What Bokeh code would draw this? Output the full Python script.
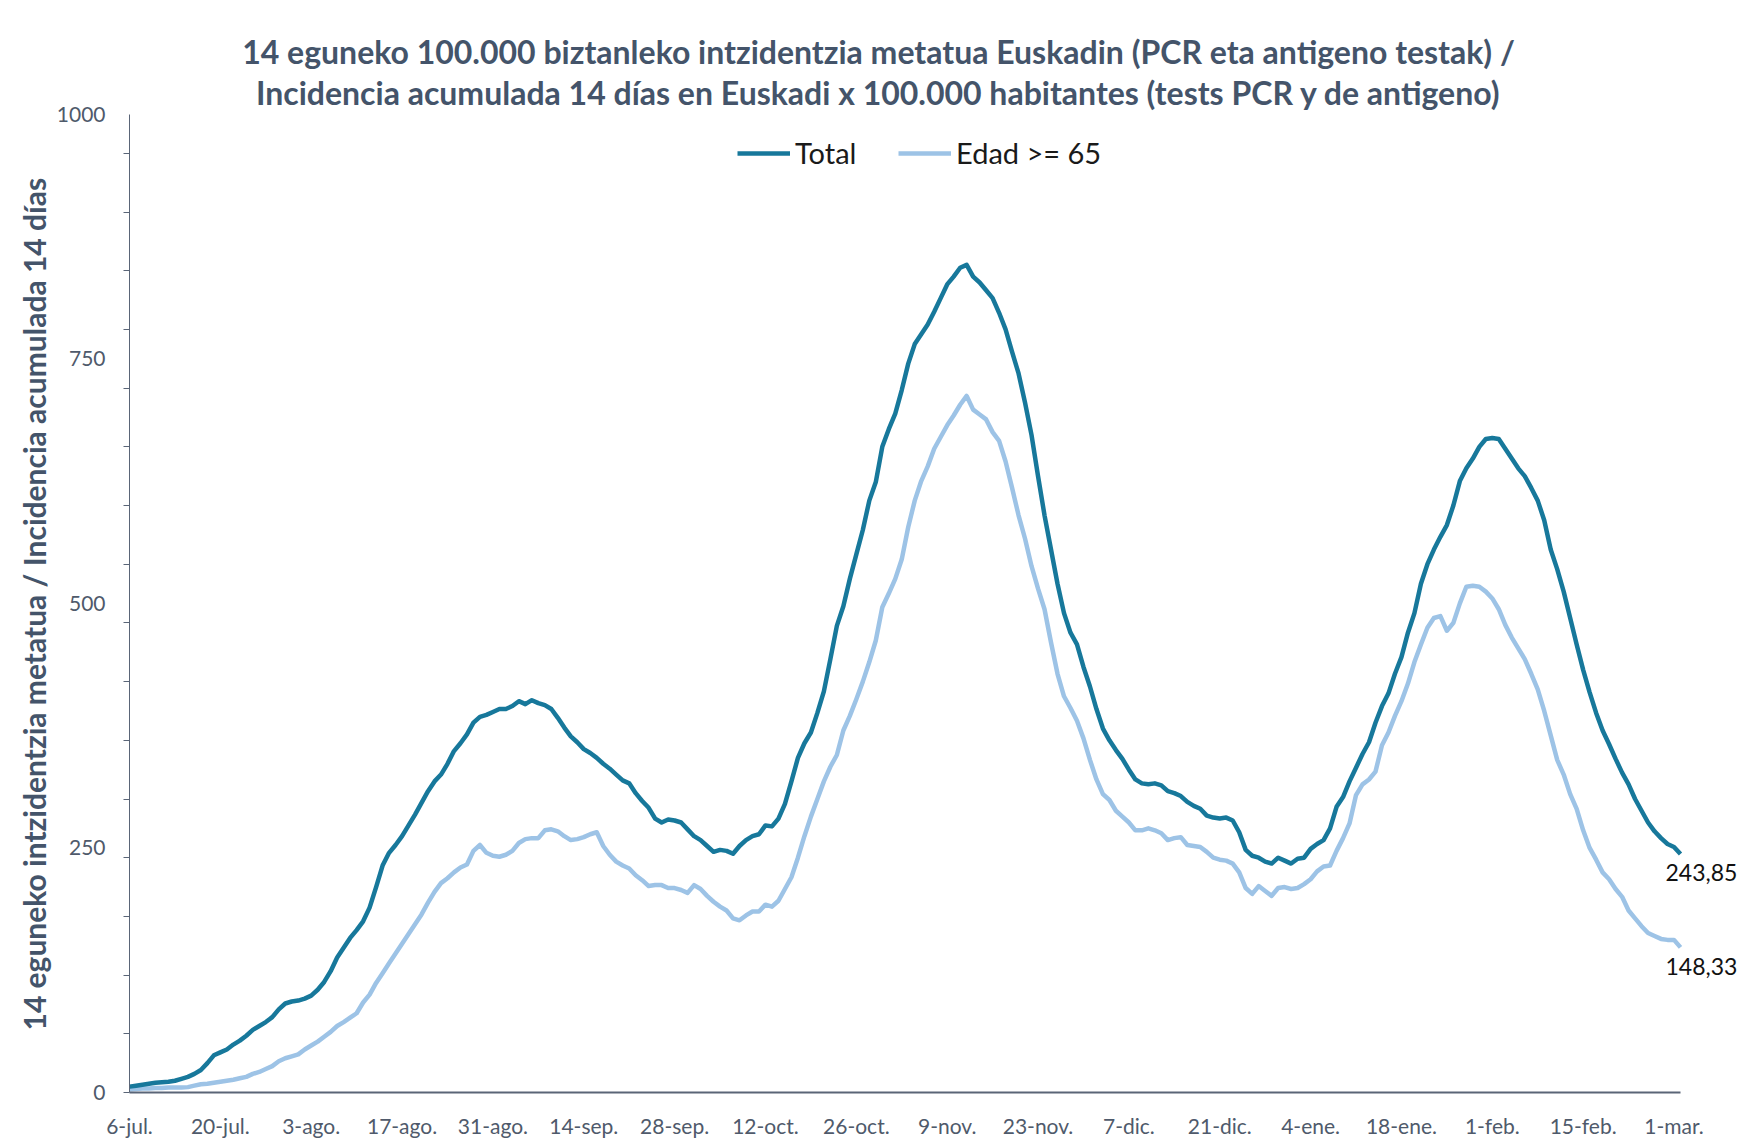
from bokeh.plotting import figure
from bokeh.models import (Range1d, FixedTicker, Legend, LegendItem, Label, Title)
from bokeh.embed import file_html
from bokeh.resources import INLINE

# ---------------- data ----------------
tick_days = [0, 14, 28, 42, 56, 70, 84, 98, 112, 126, 140, 154, 168, 182, 196, 210, 224, 238]
tick_labels = ["6-jul.", "20-jul.", "3-ago.", "17-ago.", "31-ago.", "14-sep.", "28-sep.",
               "12-oct.", "26-oct.", "9-nov.", "23-nov.", "7-dic.", "21-dic.", "4-ene.",
               "18-ene.", "1-feb.", "15-feb.", "1-mar."]

total = [6, 7, 8, 9, 10, 10.5, 11, 12, 14, 16,
         19, 23, 30, 38, 41, 44, 49, 53, 58, 64,
         68, 72, 77, 85, 91, 93, 94, 96, 99, 105,
         113, 124, 138, 148, 158, 166, 175, 189, 210, 232,
         245, 253, 262, 273, 284, 296, 308, 318, 325, 336,
         349, 357, 366, 378, 384, 386, 389, 392, 392, 395,
         400, 397, 401, 398, 396, 392, 383, 373, 364, 358,
         351, 347, 342, 336, 331, 325, 319, 316, 306, 298,
         291, 280, 276, 279, 278, 276, 269, 262, 258, 252,
         246, 248, 247, 244, 252, 258, 262, 264, 273, 272,
         280, 295, 318, 342, 357, 368, 388, 410, 443, 477,
         497, 525, 550, 575, 605, 624, 660, 678, 694, 718,
         745, 765, 775, 785, 798, 812, 826, 834, 843, 846,
         834, 828, 820, 812, 797, 780, 757, 735, 705, 672,
         630, 590, 555, 520, 490, 470, 458, 435, 415, 392,
         372, 360, 350, 341, 330, 320, 316, 315, 316, 314,
         308, 306, 303, 297, 293, 290, 283, 281, 280, 281,
         278, 266, 248, 242, 240, 236, 234, 240, 237, 234,
         239, 240, 249, 254, 258, 270, 292, 302, 318, 332,
         346, 358, 378, 395, 408, 428, 445, 470, 490, 520,
         540, 555, 568, 580, 600, 625, 638, 648, 660, 668,
         669, 668, 658, 648, 638, 630, 618, 605, 585, 555,
         535, 512, 485, 458, 432, 409, 388, 370, 356, 341,
         327, 315, 300, 288, 276, 267, 260, 254, 251, 243.85]

edad65 = [3, 3.5, 4, 4, 4.5, 4.5, 5, 5, 5, 5.5,
          7, 8.5, 9, 10, 11, 12, 13, 14.5, 16, 19,
          21, 24, 27, 32, 35, 37, 39, 44, 48, 52,
          57, 62, 68, 72, 76.5, 81, 92, 100, 112, 122,
          132, 142, 152, 162, 172, 182, 194, 205, 214, 219,
          225, 230, 233, 247, 253, 245, 242, 241, 243, 247,
          255, 259, 260, 260, 268, 269, 267, 262, 258, 259,
          261, 264, 266, 252, 243, 236, 232, 229, 222, 217,
          211, 212, 212, 209, 209, 207, 204, 212, 208, 201,
          195, 190, 186, 178, 176, 181, 185, 185, 192, 190,
          196, 208, 220, 240, 262, 282, 300, 318, 333, 345,
          370, 385, 402, 420, 440, 462, 496, 510, 525, 545,
          578, 605, 625, 640, 658, 670, 682, 692, 703, 712,
          698, 693, 688, 675, 666, 645, 618, 590, 566, 538,
          515, 494, 460, 428, 405, 393, 380, 362, 340, 320,
          305, 299, 288, 282, 276, 268, 268, 270, 268, 265,
          258, 260, 261, 253, 252, 251, 246, 240, 238, 237,
          234, 225, 209, 203, 211, 206, 201, 209, 210, 208,
          209, 213, 218, 226, 231, 232, 247, 260, 275, 304,
          315, 320, 328, 355, 368, 385, 400, 418, 440, 458,
          475, 485, 487, 472, 480, 500, 517, 518, 517, 512,
          505, 494, 478, 465, 454, 443, 428, 412, 390, 365,
          340, 325, 305, 290, 268, 250, 238, 225, 218, 208,
          200, 186, 178, 170, 163, 160, 157, 156, 156, 148.33]

days = list(range(len(total)))

y_label_ticks = [0, 250, 500, 750, 1000]
y_minor_ticks = list(range(0, 1000, 60))

# ---------------- style / layout ----------------
FONT = "Lato"
DARK_TEXT = "#44546A"
TICK_TEXT = "#4f5a6b"
AXIS_COLOR = "#5a6577"
C_TOTAL = "#17789B"
C_EDAD = "#9DC3E6"

W, H = 1740, 1140
LEFT, RIGHT_AXIS_END, TOP_AXIS, BOTTOM = 129, 1680, 114, 1095   # pixel layout of the axes
last_day = days[-1]
y_max = y_label_ticks[-1]
# frame reaches canvas top and right edge so that texts are not clipped;
# axis lines are bounded to the data extent
x_end = last_day * (W - LEFT) / (RIGHT_AXIS_END - LEFT)
y_end = y_max * BOTTOM / (BOTTOM - TOP_AXIS)

p = figure(width=W, height=H, output_backend="svg", toolbar_location=None,
           x_range=Range1d(0, x_end), y_range=Range1d(0, y_end),
           min_border_left=LEFT, min_border_right=0,
           min_border_top=0, min_border_bottom=H - BOTTOM)
p.title.visible = False
p.outline_line_color = None
p.xgrid.visible = False
p.ygrid.visible = False
p.background_fill_color = "white"
p.border_fill_color = "white"

# x axis
xa = p.xaxis[0]
xa.bounds = (0, last_day)
xa.ticker = FixedTicker(ticks=tick_days)
xa.major_label_overrides = {d: lab for d, lab in zip(tick_days, tick_labels)}
xa.major_tick_out = 0
xa.major_tick_in = 0
xa.minor_tick_out = 0
xa.minor_tick_in = 0
xa.axis_line_color = AXIS_COLOR
xa.axis_line_width = 2
xa.major_label_text_font = FONT
xa.major_label_text_font_size = "21px"
xa.major_label_text_color = TICK_TEXT
xa.major_label_standoff = 20

# y axis
ya = p.yaxis[0]
ya.bounds = (0, y_max)
ya.ticker = FixedTicker(ticks=y_label_ticks, minor_ticks=y_minor_ticks)
ya.major_tick_out = 0
ya.major_tick_in = 0
ya.minor_tick_out = 6
ya.minor_tick_in = 0
ya.minor_tick_line_color = AXIS_COLOR
ya.axis_line_color = AXIS_COLOR
ya.axis_line_width = 1
ya.major_label_text_font = FONT
ya.major_label_text_font_size = "21px"
ya.major_label_text_color = TICK_TEXT
ya.major_label_standoff = 18

# y axis title: placed in the left panel, aligned to the axis extent
p.add_layout(Title(text="14 eguneko intzidentzia metatua / Incidencia acumulada 14 días",
                   align="left", offset=62, standoff=4,
                   text_font=FONT, text_font_style="bold", text_font_size="30px",
                   text_color=DARK_TEXT), "left")

# lines
r_edad = p.line(days, edad65, line_color=C_EDAD, line_width=4.5, line_join="round")
r_total = p.line(days, total, line_color=C_TOTAL, line_width=4.5, line_join="round")

# legends (one per item, positioned like the original)
def make_legend(label, renderer, vx):
    lg = Legend(items=[LegendItem(label=label, renderers=[renderer])],
                location=(vx, 922), orientation="horizontal",
                glyph_width=53, glyph_height=28, label_height=28,
                label_standoff=5, padding=0, margin=0, spacing=0,
                border_line_color=None, background_fill_alpha=0,
                label_text_font=FONT, label_text_font_size="29px",
                label_text_color="#1a1a1a")
    p.add_layout(lg, "center")

make_legend("Total", r_total, 737 - LEFT)
make_legend("Edad >= 65", r_edad, 898 - LEFT)

# end-of-series value labels
def fmt(v):
    return f"{v:.2f}".replace(".", ",")

for series in (total, edad65):
    p.add_layout(Label(x=days[-1], y=series[-1], text=fmt(series[-1]),
                       x_offset=-15, y_offset=-19, text_align="left",
                       text_baseline="middle", text_font=FONT,
                       text_font_size="23px", text_color="#111111"))

# title (two lines)
for txt, ypix in (("14 eguneko 100.000 biztanleko intzidentzia metatua Euskadin (PCR eta antigeno testak) /", 54),
                  ("Incidencia acumulada 14 días en Euskadi x 100.000 habitantes (tests PCR y de antigeno)", 95)):
    p.add_layout(Label(x=878 - LEFT, y=BOTTOM - ypix, x_units="screen", y_units="screen", text=txt,
                       text_align="center", text_baseline="middle", text_font=FONT,
                       text_font_style="bold", text_font_size="32px",
                       text_color=DARK_TEXT))

open("out.html", "w").write(file_html(p, INLINE))
